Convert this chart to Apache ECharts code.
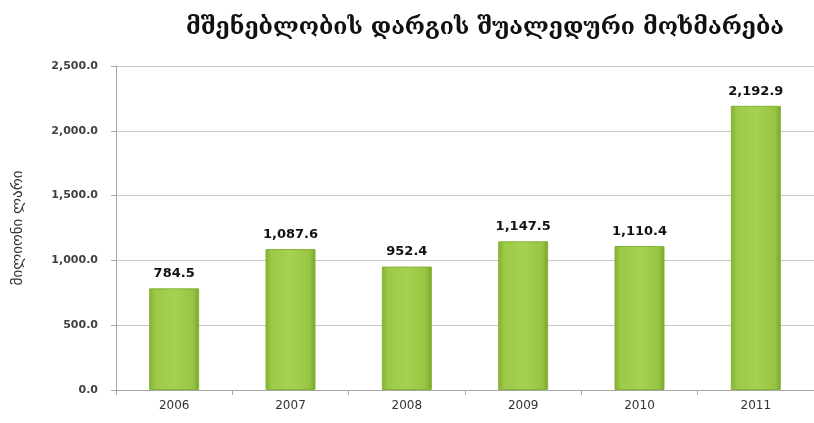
<!DOCTYPE html>
<html>
<head>
<meta charset="utf-8">
<script src="https://cdn.jsdelivr.net/npm/echarts@6/dist/echarts.min.js"></script>
<style>
  html, body { margin: 0; padding: 0; background: #fff; }
  #chart { width: 814px; height: 423px; }
</style>
</head>
<body>
<div id="chart"></div>
<script>
const years = ['2006', '2007', '2008', '2009', '2010', '2011']
const consumption = [784.5, 1087.6, 952.4, 1147.5, 1110.4, 2192.9]
const chartTitle = 'მშენებლობის დარგის შუალედური მოხმარება'
const yAxisTitle = 'მილიონი ლარი'

const fmt = (v) => Number(v).toLocaleString('en-US', { minimumFractionDigits: 1, maximumFractionDigits: 1 })

const chart = echarts.init(document.getElementById('chart'))
chart.setOption({
  animation: false,
  title: {
    text: chartTitle,
    left: 480,
    top: 12,
    textAlign: 'center',
    textStyle: { fontFamily: 'DejaVu Serif, DejaVu Sans', fontSize: 23, fontWeight: 'bold', color: '#111' }
  },
  grid: { left: 116, right: 0, top: 66, bottom: 33 },
  xAxis: {
    type: 'category',
    data: years,
    axisLine: { lineStyle: { color: '#a6a6a6' } },
    axisTick: { show: true, lineStyle: { color: '#a6a6a6' } },
    axisLabel: { color: '#333', fontFamily: 'Verdana, DejaVu Sans', fontSize: 12, margin: 10 }
  },
  yAxis: {
    type: 'value',
    min: 0,
    max: 2500,
    interval: 500,
    name: yAxisTitle,
    nameLocation: 'middle',
    nameGap: 90,
    nameTextStyle: { fontFamily: 'DejaVu Sans', fontSize: 15, color: '#333' },
    axisLine: { show: true, lineStyle: { color: '#a6a6a6' } },
    axisTick: { show: true, lineStyle: { color: '#a6a6a6' } },
    axisLabel: { color: '#404040', fontFamily: 'Verdana, DejaVu Sans', fontSize: 11, fontWeight: 'bold', margin: 18, formatter: fmt },
    splitLine: { lineStyle: { color: '#c8c8c8' } }
  },
  series: [{
    type: 'bar',
    data: consumption,
    barWidth: 50,
    itemStyle: {
      color: new echarts.graphic.LinearGradient(0, 0, 1, 0, [
        { offset: 0, color: '#82b030' },
        { offset: 0.12, color: '#9cc946' },
        { offset: 0.5, color: '#a6d152' },
        { offset: 0.88, color: '#98c443' },
        { offset: 1, color: '#7aa42c' }
      ]),
      borderColor: '#86b238',
      borderWidth: 1
    },
    label: {
      show: true,
      position: 'top',
      distance: 8,
      formatter: (p) => fmt(p.value),
      color: '#111',
      fontFamily: 'Verdana, DejaVu Sans',
      fontSize: 13,
      fontWeight: 'bold'
    }
  }]
})
</script>
</body>
</html>
